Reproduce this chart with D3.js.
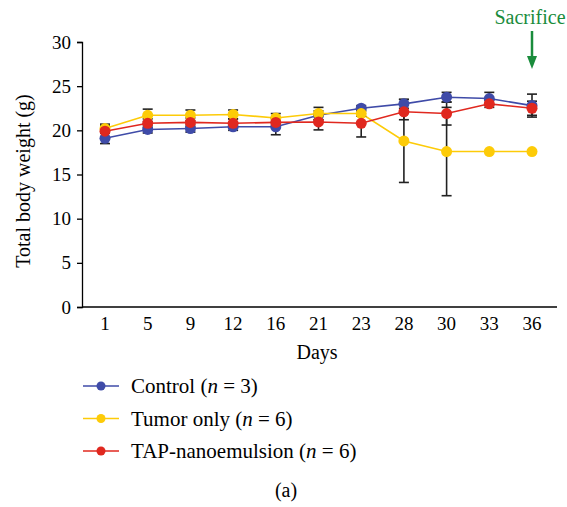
<!DOCTYPE html>
<html>
<head>
<meta charset="utf-8">
<script src="https://cdn.jsdelivr.net/npm/d3@7"></script>
<style>
  body { margin: 0; background: #fff; }
  svg { font-family: 'Liberation Serif', 'DejaVu Serif', serif; }
</style>
</head>
<body>
<svg id="chart" width="567" height="507"></svg>
<script>
const days = ['1', '5', '9', '12', '16', '21', '23', '28', '30', '33', '36']
const yTicks = [0, 5, 10, 15, 20, 25, 30]

const controlMean = [19.1, 20.1, 20.2, 20.4, 20.4, 21.7, 22.5, 23.0, 23.75, 23.6, 22.8]
const controlErr = [0.6, 0.4, 0.4, 0.4, 0.9, 0.5, 0.3, 0.5, 0.55, 0.7, 1.3]
const tumorMean = [20.2, 21.7, 21.7, 21.8, 21.4, 21.9, 21.9, 18.8, 17.6, 17.6, 17.6]
const tumorErr = [0.5, 0.7, 0.6, 0.5, 0.5, 0.7, 0.3, 4.7, 5.0, 0, 0]
const tapMean = [19.9, 20.8, 20.9, 20.8, 20.9, 20.95, 20.8, 22.1, 21.9, 23.0, 22.5]
const tapErr = [0.6, 0.5, 0.5, 0.5, 0.5, 0.9, 1.55, 0.9, 1.3, 0.4, 0.8]

const series = [
  { name: 'Control', n: 3, mean: controlMean, err: controlErr, color: '#3f4ba8' },
  { name: 'Tumor only', n: 6, mean: tumorMean, err: tumorErr, color: '#fdcb08' },
  { name: 'TAP-nanoemulsion', n: 6, mean: tapMean, err: tapErr, color: '#e0281f' }
]

const svg = d3.select('#chart')
const plotLeft = 82, plotRight = 557, plotTop = 42, plotBottom = 307

const x = d3.scalePoint().domain(days).range([105, 532])
const y = d3.scaleLinear().domain([0, 30]).range([plotBottom, plotTop])

// Axes
svg.append('line')
  .attr('x1', plotLeft).attr('x2', plotRight)
  .attr('y1', plotBottom).attr('y2', plotBottom)
  .attr('stroke', '#000').attr('stroke-width', 1.3)

const yAxis = svg.append('g')
  .attr('transform', `translate(${plotLeft},0)`)
  .call(d3.axisLeft(y).tickValues(yTicks).tickSize(5).tickPadding(6))
yAxis.select('.domain').attr('stroke-width', 1.3)
yAxis.selectAll('.tick line').attr('stroke-width', 1.3)
yAxis.selectAll('text')
  .style('font-family', 'Liberation Serif, serif')
  .style('font-size', '19px')
  .attr('fill', '#000')

svg.append('g').selectAll('text')
  .data(days)
  .join('text')
  .attr('x', d => x(d))
  .attr('y', 330)
  .attr('text-anchor', 'middle')
  .style('font-size', '19px')
  .text(d => d)

svg.append('text')
  .attr('x', 317).attr('y', 359)
  .attr('text-anchor', 'middle')
  .style('font-size', '20px')
  .text('Days')

svg.append('text')
  .attr('transform', 'translate(30,181) rotate(-90)')
  .attr('text-anchor', 'middle')
  .style('font-size', '20px')
  .text('Total body weight (g)')

// Lines
const line = d3.line().x((d, i) => x(days[i])).y(d => y(d))
series.forEach(s => {
  svg.append('path')
    .datum(s.mean)
    .attr('d', line)
    .attr('fill', 'none')
    .attr('stroke', s.color)
    .attr('stroke-width', 1.6)
})

// Error bars
series.forEach(s => {
  const g = svg.append('g').attr('stroke', '#222').attr('stroke-width', 1.6)
  s.mean.forEach((m, i) => {
    if (!s.err[i]) return
    const cx = x(days[i])
    g.append('line').attr('x1', cx).attr('x2', cx).attr('y1', y(m - s.err[i])).attr('y2', y(m + s.err[i]))
    ;[m - s.err[i], m + s.err[i]].forEach(v => {
      g.append('line').attr('x1', cx - 5).attr('x2', cx + 5).attr('y1', y(v)).attr('y2', y(v))
    })
  })
})

// Markers
series.forEach(s => {
  svg.append('g').selectAll('circle')
    .data(s.mean)
    .join('circle')
    .attr('cx', (d, i) => x(days[i]))
    .attr('cy', d => y(d))
    .attr('r', 5.5)
    .attr('fill', s.color)
})

// Sacrifice annotation
const green = '#1a8c3c'
svg.append('text')
  .attr('x', 530).attr('y', 24)
  .attr('text-anchor', 'middle')
  .attr('fill', green)
  .style('font-size', '20px')
  .text('Sacrifice')
svg.append('line')
  .attr('x1', x('36')).attr('x2', x('36'))
  .attr('y1', 31).attr('y2', 58)
  .attr('stroke', green).attr('stroke-width', 2.5)
svg.append('path')
  .attr('d', `M${x('36') - 5},56 L${x('36') + 5},56 L${x('36')},69 Z`)
  .attr('fill', green)

// Legend
const legend = svg.append('g')
series.forEach((s, i) => {
  const ly = 386 + i * 32.5
  legend.append('line')
    .attr('x1', 83).attr('x2', 119).attr('y1', ly).attr('y2', ly)
    .attr('stroke', s.color).attr('stroke-width', 1.3)
  legend.append('circle')
    .attr('cx', 101).attr('cy', ly).attr('r', 4.5).attr('fill', s.color)
  const t = legend.append('text')
    .attr('x', 131).attr('y', ly + 7)
    .style('font-size', '21px')
  t.append('tspan').text(`${s.name} (`)
  t.append('tspan').style('font-style', 'italic').text('n')
  t.append('tspan').text(` = ${s.n})`)
})

svg.append('text')
  .attr('x', 286).attr('y', 497)
  .attr('text-anchor', 'middle')
  .style('font-size', '20px')
  .text('(a)')
</script>
</body>
</html>
